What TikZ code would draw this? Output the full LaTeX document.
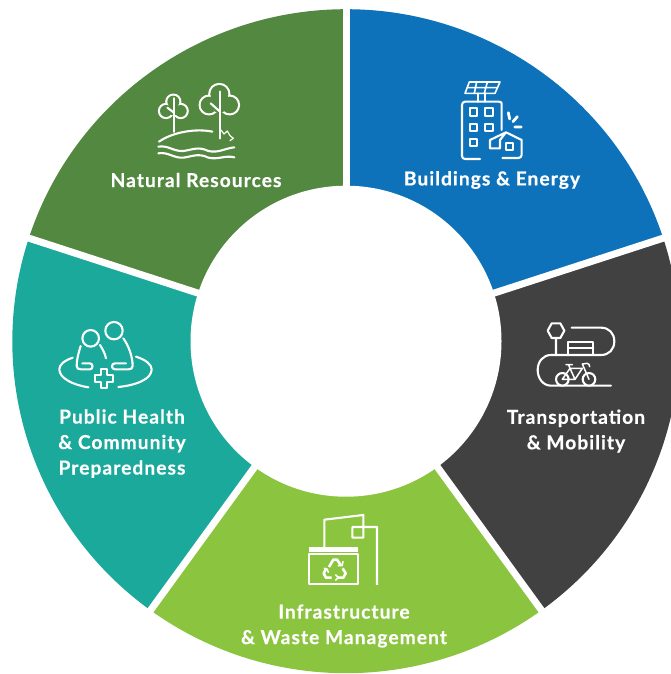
\documentclass[tikz,border=0pt]{standalone}
\usepackage{fontspec}
\setmainfont{Lato}[LetterSpace=5.4,BoldFeatures={FakeBold=0.5}]
\usetikzlibrary{calc}
\definecolor{cnat}{HTML}{52883F}
\definecolor{cbld}{HTML}{0E72BA}
\definecolor{ctrn}{HTML}{414141}
\definecolor{cinf}{HTML}{8BC53F}
\definecolor{cpub}{HTML}{1BA99C}
\tikzset{
  lab/.style={text=white,font=\fontsize{19.2}{25.5}\selectfont\bfseries,align=center,inner sep=0pt},
  ico/.style={draw=white,line width=2.1pt,line join=round,line cap=round,fill=none},
}
\begin{document}
\begin{tikzpicture}[x=1pt,y=-1pt]
\useasboundingbox (0,0) rectangle (671,674);
\clip (0,0) rectangle (671,674);
\def\cx{346}\def\cy{341.2}\def\Ro{332}\def\Ri{155.5}
\begin{scope}[shift={(\cx,\cy)},xscale=1.005]
\foreach \a/\c in {-90/cbld,-18/ctrn,54/cinf,126/cpub,198/cnat}{
  \pgfmathsetmacro{\b}{\a+72}
  \fill[\c] (\a:\Ro) arc[start angle=\a,end angle=\b,radius=\Ro] -- (0,0) -- cycle;
}
\end{scope}
\foreach \a in {-90,-18,54,126,198}{
  \coordinate (c0) at (\cx,\cy);
  \coordinate (e\a) at ($(\cx,\cy)+(\a:340)$);
  \draw[white,line width=7pt] (c0) -- (e\a);
}
\fill[white] (\cx,\cy) circle[radius=\Ri];
% labels
\node[lab] (nat) at (196,180) {Natural Resources};
\node[lab] (bld) at (492,180) {Buildings \& Energy};
\node[lab] (trn) at (576,431) {Transportation\\\& Mobility};
\node[lab] (pub) at (122,443.5) {Public Health\\\& Community\\Preparedness};
\node[lab] (inf) at (344,626) {Infrastructure\\\& Waste Management};
% building icon
\begin{scope}[shift={(440,70)},x=.3333pt,y=-.3333pt]
\draw[ico,line width=1.6pt] (88,36)--(180,36)--(165,70)--(75,70)--cycle (83,53)--(172,53) (110,36)--(103,70) (142,36)--(133,70);
\draw[ico] (115,70)--(115,95) (135,70)--(135,95);
\draw[ico] (185,180)--(185,100) to[out=90,in=0] (175,95)--(75,95) to[out=180,in=90] (66,105)--(66,258) to[out=-90,in=180] (75,267)--(120,267);
\draw[ico] (187,264)--(235,264) to[out=0,in=-90] (245,255)--(245,210)--(198,187)--(150,210)--(150,235)--(180,235)--(180,210)--(198,187);
\foreach \p in {(89,115),(136,115),(89,162),(136,162),(89,207)} \draw[ico] \p rectangle ++(22,22);
\draw[ico] (197,219) rectangle (219,241);
\draw[ico,line width=2.8pt] (205,128)--(209,147) (219,155)--(232,140) (224,171)--(244,171);
\end{scope}
% trees icon
\begin{scope}[shift={(140,70)},x=.3333pt,y=-.3333pt]
\foreach \p/\r in {(100,95)/18,(78,123)/18,(122,123)/18,(238,72)/27,(207,105)/25,(269,105)/25}
  \draw[white,line width=4.2pt] \p circle[radius=\r*1pt/3];
\foreach \p/\r in {(100,95)/18,(78,123)/18,(122,123)/18,(100,118)/18,(238,72)/27,(207,105)/25,(269,105)/25,(238,100)/28}
  \fill[cnat] \p circle[radius=\r*1pt/3];
\draw[ico,line width=2.6pt] (102,85)--(102,185) (240,65)--(240,205);
\draw[ico] (82,113)--(102,128) (212,100)--(240,125);
\draw[ico] (57,215) .. controls (100,185) and (170,175) .. (217,185);
\draw[ico,line width=1.2pt] (243,180)--(252,192)--(262,183)--(270,197)--(280,205)--(270,212);
\draw[ico] (55,230) .. controls (85,225) and (100,245) .. (130,243) .. controls (155,240) and (175,228) .. (205,243) .. controls (235,250) and (255,235) .. (283,232);
\draw[ico] (55,250) .. controls (85,245) and (100,265) .. (130,263) .. controls (155,260) and (175,248) .. (205,263) .. controls (235,270) and (255,255) .. (283,262);
\end{scope}
% transport icon
\begin{scope}[shift={(525,310)},x=.3333pt,y=-.3333pt]
\draw[ico] (68,62)--(80,40)--(106,40)--(118,62)--(106,84)--(80,84)--cycle (93,84)--(93,135);
\draw[ico] (140,53)--(228,53) .. controls (252,53) and (268,70) .. (268,94) .. controls (268,118) and (252,135) .. (228,135)--(78,135) .. controls (54,135) and (38,155) .. (38,180) .. controls (38,205) and (54,227) .. (78,227)--(258,227);
\draw[ico] (130,135)--(130,97)--(205,97)--(205,135) (130,113)--(205,113);
\draw[ico,fill=ctrn] (112,208) circle[radius=6.3pt] (192,208) circle[radius=6.3pt];
\draw[ico,line width=1.5pt] (112,208)--(135,175)--(172,175)--(150,208)--cycle (135,175)--(150,208) (131,165)--(135,175) (123,164)--(142,164) (192,208)--(172,162)--(186,160) to[out=0,in=90] (194,170);
\end{scope}
% people icon
\begin{scope}[shift={(50,310)},x=.3333pt,y=-.3333pt]
\draw[ico] (192,62) circle[radius=8.7pt];
\draw[ico,fill=cpub] (122,85) circle[radius=8.3pt];
\draw[ico] (92,108) .. controls (85,130) and (80,150) .. (80,168) .. controls (80,175) and (85,178) .. (92,178)--(120,178) .. controls (130,178) and (130,160) .. (120,160)--(97,160);
\draw[ico] (150,105) .. controls (158,118) and (165,130) .. (168,145);
\draw[ico] (220,85) .. controls (235,105) and (248,140) .. (248,168) .. controls (248,175) and (243,178) .. (236,178)--(195,178) .. controls (183,178) and (183,160) .. (195,160)--(228,160);
\draw[ico] (68,143) .. controls (40,153) and (28,165) .. (28,178) .. controls (28,205) and (70,225) .. (115,232);
\draw[ico] (258,140) .. controls (290,150) and (305,165) .. (305,178) .. controls (305,205) and (265,225) .. (205,231);
\draw[ico,fill=cpub] (152,177)--(172,177)--(172,195)--(190,195)--(190,215)--(172,215)--(172,233)--(152,233)--(152,215)--(134,215)--(134,195)--(152,195)--cycle;
\end{scope}
% infrastructure icon
\begin{scope}[shift={(295,505)},x=.3333pt,y=-.3333pt]
\draw[ico,line cap=butt] (88,128)--(88,44)--(205,30)--(205,98)--(172,98)--(172,66)--(246,66)--(246,240);
\fill[white] (41,127) rectangle (190,140);
\draw[ico,line cap=butt] (42,148) rectangle (188,237);
\draw[ico,line width=2.6pt,line cap=butt] (102,186)--(115,164)--(126,164)--(137,180) (143,190)--(152,205)--(145,218)--(128,218) (110,218)--(93,218)--(86,205)--(93,192);
\draw[ico,line width=1.6pt] (130,182)--(141,182)--(144,170) (122,210)--(130,218)--(122,225) (88,190)--(97,193)--(100,202);
\end{scope}
\end{tikzpicture}
\end{document}
